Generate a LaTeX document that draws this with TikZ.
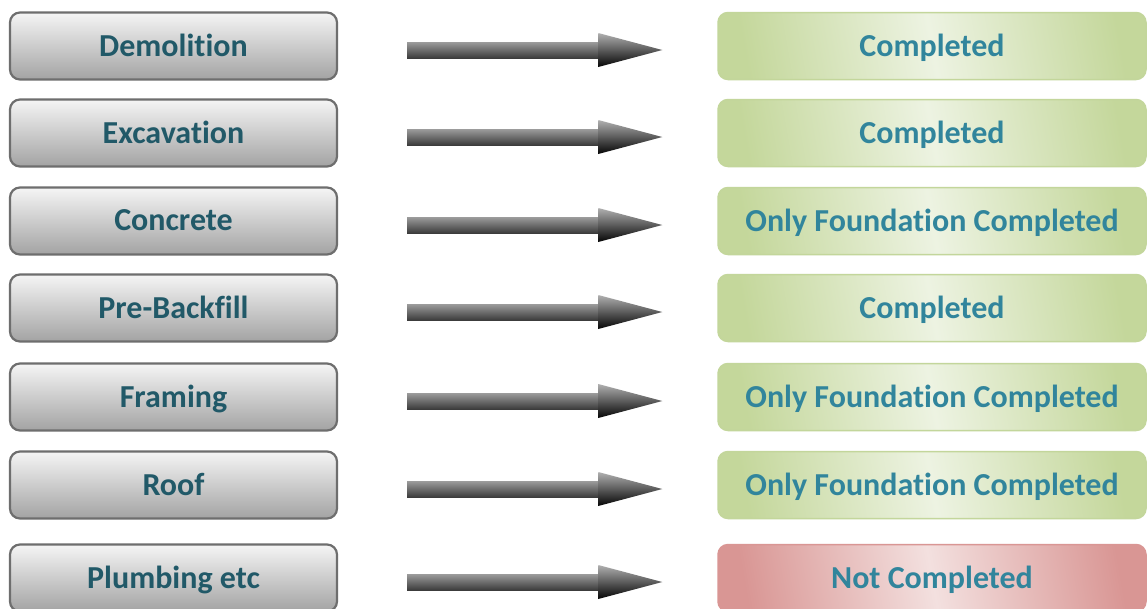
\documentclass[tikz,border=0pt]{standalone}
\usepackage{fontspec}
\setmainfont[Ligatures=NoCommon]{Carlito}
\usetikzlibrary{calc}
\definecolor{lefttext}{HTML}{215968}
\definecolor{righttext}{HTML}{31859C}
\definecolor{grayTop}{HTML}{F5F5F5}
\definecolor{grayBot}{HTML}{A3A3A3}
\definecolor{grayLine}{HTML}{6E6E6E}
\definecolor{gEdge}{HTML}{C4D79B}
\definecolor{gMid}{HTML}{EDF3E2}
\definecolor{gLine}{HTML}{C3D69B}
\definecolor{rEdge}{HTML}{D99694}
\definecolor{rMid}{HTML}{F3E0DF}
\definecolor{rLine}{HTML}{D99694}
\definecolor{shaftTop}{HTML}{9C9C9C}
\definecolor{shaftBot}{HTML}{3C3C3C}
\definecolor{headTop}{HTML}{B0B0B0}
\definecolor{headBot}{HTML}{050505}
\tikzset{
  taskbox/.style={rectangle, rounded corners=10pt, minimum width=327pt, minimum height=67pt,
    draw=grayLine, line width=2.2pt, top color=grayTop, bottom color=grayBot,
    font=\bfseries\fontsize{32}{32}\selectfont, text=lefttext, text depth=2pt},
  donebox/.style={rectangle, rounded corners=10pt, minimum width=428pt, minimum height=67pt,
    draw=gLine, line width=1.5pt, left color=gEdge, right color=gEdge, middle color=gMid,
    shading angle=100, font=\bfseries\fontsize{32}{32}\selectfont, text=righttext, text depth=2pt},
  notbox/.style={donebox, draw=rLine, left color=rEdge, right color=rEdge, middle color=rMid, shading angle=100},
  shaftshade/.style={top color=shaftTop, bottom color=shaftBot},
  headshade/.style={top color=headTop, bottom color=headBot}
}
\begin{document}
\begin{tikzpicture}[x=1pt,y=-1pt]
\useasboundingbox (0,0) rectangle (1148,608);
\clip (0,0) rectangle (1148,608);
\fill[white] (0,0) rectangle (1148,608);

\node[taskbox] (L1) at (173.5,46) {Demolition};
\node[taskbox] (L2) at (173.5,133) {Excavation};
\node[taskbox] (L3) at (173.5,221) {Concrete};
\node[taskbox] (L4) at (173.5,308) {Pre-Backfill};
\node[taskbox] (L5) at (173.5,397) {Framing};
\node[taskbox] (L6) at (173.5,485) {Roof};
\node[taskbox] (L7) at (173.5,578) {Plumbing etc};

\node[donebox] (R1) at (932,46) {Completed};
\node[donebox] (R2) at (932,133) {Completed};
\node[donebox] (R3) at (932,221) {Only Foundation Completed};
\node[donebox] (R4) at (932,308) {Completed};
\node[donebox] (R5) at (932,397) {Only Foundation Completed};
\node[donebox] (R6) at (932,485) {Only Foundation Completed};
\node[notbox]  (R7) at (932,578) {Not Completed};

\foreach \i in {1,...,7}{
  \coordinate (a\i) at ($(L\i.east)+(69,4)$);
  \coordinate (b\i) at ($(R\i.west)+(-55,4)$);
  \shade[shaftshade] ($(a\i)+(0,-8)$) rectangle ($(b\i)+(-64,8)$);
  \shade[headshade] ($(b\i)+(-64,-17)$) -- (b\i) -- ($(b\i)+(-64,17)$) -- cycle;
}
\end{tikzpicture}
\end{document}
